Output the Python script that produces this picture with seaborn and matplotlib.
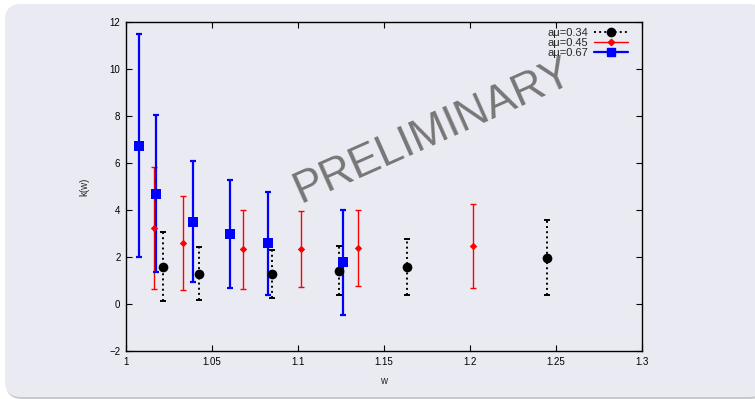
import numpy as np
import pandas as pd
import matplotlib
matplotlib.use("Agg")
import matplotlib.pyplot as plt
import seaborn as sns
from matplotlib.patches import FancyBboxPatch
from matplotlib.lines import Line2D
from matplotlib.transforms import IdentityTransform

# ---- data ----
w_034 = [1.0213, 1.0426, 1.0847, 1.1236, 1.1634, 1.2445]
k_034 = [1.58, 1.28, 1.27, 1.39, 1.58, 1.96]
hi_034 = [3.05, 2.43, 2.29, 2.48, 2.78, 3.59]
lo_034 = [0.13, 0.16, 0.27, 0.37, 0.37, 0.37]

w_045 = [1.0165, 1.0334, 1.0681, 1.1015, 1.1346, 1.2016]
k_045 = [3.25, 2.59, 2.32, 2.32, 2.38, 2.46]
hi_045 = [5.82, 4.60, 4.00, 3.94, 4.00, 4.24]
lo_045 = [0.64, 0.60, 0.65, 0.73, 0.77, 0.70]

w_067 = [1.0078, 1.0177, 1.0387, 1.0603, 1.0824, 1.1264]
k_067 = [6.73, 4.68, 3.49, 2.98, 2.59, 1.78]
hi_067 = [11.50, 8.06, 6.09, 5.28, 4.78, 4.00]
lo_067 = [1.99, 1.37, 0.94, 0.67, 0.37, -0.46]

labels = ["aμ=0.34", "aμ=0.45", "aμ=0.67"]
x_ticks = [1.0, 1.05, 1.1, 1.15, 1.2, 1.25, 1.3]
x_tick_labels = ["1", "1.05", "1.1", "1.15", "1.2", "1.25", "1.3"]
y_ticks = [-2, 0, 2, 4, 6, 8, 10, 12]
y_tick_labels = ["\u22122", "0", "2", "4", "6", "8", "10", "12"]
watermark = "PRELIMINARY"

BG = "#EAEAF2"
sns.set_theme(style="white", rc={"axes.facecolor": BG})
plt.rcParams["font.family"] = ["Liberation Sans", "DejaVu Sans"]

fig = plt.figure(figsize=(7.55, 3.99), dpi=100)
fig.patch.set_facecolor("white")

# rounded background panel with faint shadow
shadow = FancyBboxPatch((6, 0), 760, 393, boxstyle="round,pad=0,rounding_size=16",
                        transform=IdentityTransform(), facecolor="#c8c8cc",
                        edgecolor="none", zorder=-3)
panel = FancyBboxPatch((5, 2), 760, 393, boxstyle="round,pad=0,rounding_size=16",
                       transform=IdentityTransform(), facecolor=BG,
                       edgecolor="none", zorder=-2)
fig.patches.extend([shadow, panel])

ax = fig.add_axes([126 / 755, 48 / 399, 516 / 755, 329 / 399])
ax.set_facecolor(BG)

series = [
    (w_034, k_034, lo_034, hi_034, dict(color="black", marker="o", ms=7, lw=1.4, ls=":", cap=2)),
    (w_045, k_045, lo_045, hi_045, dict(color="#ff0000", marker="D", ms=3.8, lw=1.0, ls="-", cap=2)),
    (w_067, k_067, lo_067, hi_067, dict(color="#0000ff", marker="s", ms=7, lw=1.6, ls="-", cap=2)),
]

handles = []
for (w, k, lo, hi, st), lab in zip(series, labels):
    w = np.array(w); k = np.array(k)
    yerr = np.vstack([k - np.array(lo), np.array(hi) - k])
    eb = ax.errorbar(w, k, yerr=yerr, fmt="none", ecolor=st["color"],
                     elinewidth=st["lw"], capsize=st["cap"], capthick=st["lw"], zorder=2)
    for lc in eb[2]:
        lc.set_linestyle(st["ls"])
    df = pd.DataFrame({"w": w, "k": k})
    sns.scatterplot(data=df, x="w", y="k", ax=ax, color=st["color"], marker=st["marker"],
                    s=st["ms"] ** 2, edgecolor=st["color"], linewidth=0, zorder=3, legend=False)
    handles.append(Line2D([0], [0], color=st["color"], lw=st["lw"], ls=st["ls"],
                          marker=st["marker"], ms=st["ms"] * 0.85, label=lab))

ax.set_xlim(1.0, 1.3)
ax.set_ylim(-2, 12)
ax.set_xticks(x_ticks)
ax.set_xticklabels(x_tick_labels)
ax.set_yticks(y_ticks)
ax.set_yticklabels(y_tick_labels)
ax.tick_params(direction="in", length=4, width=0.8, colors="black", labelsize=7,
               top=True, right=True, bottom=True, left=True, pad=4)
for s in ax.spines.values():
    s.set_color("black")
    s.set_linewidth(1.0)
ax.set_xlabel("w", fontsize=7, labelpad=7)
ax.set_ylabel("k(w)", fontsize=7, labelpad=14)

leg = ax.legend(handles=handles, loc="upper right", frameon=False, fontsize=8,
                markerfirst=False, handlelength=3.05, handletextpad=0.55,
                labelspacing=0.0, borderaxespad=0.1,
                bbox_to_anchor=(1 - 8.5 / 516, 1.0))

ax.text(0.595, 0.668, watermark, transform=ax.transAxes, fontsize=32,
        color="#777777", rotation=24, ha="center", va="center", zorder=1)

fig.savefig("out.png", dpi=100, facecolor="white")
